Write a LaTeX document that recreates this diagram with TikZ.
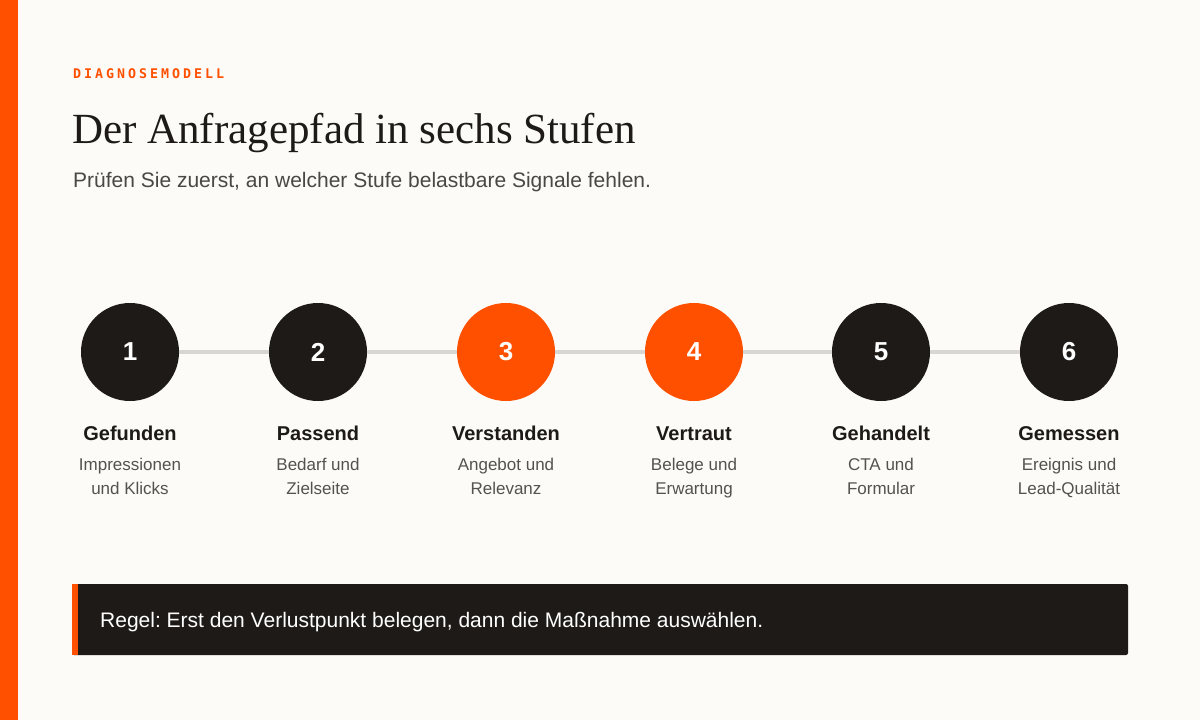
\documentclass[tikz,border=0pt]{standalone}
\usepackage{fontspec}
\setmainfont{Liberation Sans}
\newfontfamily\serifT{Liberation Serif}
\newfontfamily\monoT[LetterSpace=22.5]{DejaVu Sans Mono}
\definecolor{bg}{HTML}{FCFBF8}
\definecolor{accent}{HTML}{FF5000}
\definecolor{ink}{HTML}{1E1A17}
\definecolor{subgray}{HTML}{4A4744}
\definecolor{descgray}{HTML}{55524E}
\definecolor{linegray}{HTML}{D9D6D1}
\tikzset{
  stepcircle/.style={circle, minimum size=98pt, inner sep=0pt, fill=ink, text=white, font=\bfseries\fontsize{26}{26}\selectfont},
  hot/.style={fill=accent},
  conn/.style={draw=linegray, line width=4pt},
  steptitle/.style={anchor=base, inner sep=0pt, text=ink, font=\bfseries\fontsize{20}{20}\selectfont},
  stepdesc/.style={anchor=base, inner sep=0pt, text=descgray, font=\fontsize{17}{17}\selectfont},
}
\frenchspacing
\begin{document}
\frenchspacing
\begin{tikzpicture}[x=1pt,y=-1pt]
\useasboundingbox (0,0) rectangle (1200,720);
\fill[bg] (0,0) rectangle (1200,720);
\fill[accent] (0,0) rectangle (18,720);
\node[anchor=base west, inner sep=0pt, text=accent, font=\monoT\bfseries\fontsize{13.3}{13.3}\selectfont] (kicker) at (73,78) {DIAGNOSEMODELL};
\node[anchor=base west, inner sep=0pt, text=ink, font=\serifT\fontsize{43}{43}\selectfont] (title) at (72,143) {Der Anfragepfad in sechs Stufen};
\node[anchor=base west, inner sep=0pt, text=subgray, font=\fontsize{21}{21}\selectfont] (sub) at (73,187) {Prüfen Sie zuerst, an welcher Stufe belastbare Signale fehlen.};
% circles
\node[stepcircle] (c1) at (130,352) {1};
\node[stepcircle] (c2) at (318,352) {2};
\node[stepcircle,hot] (c3) at (506,352) {3};
\node[stepcircle,hot] (c4) at (694,352) {4};
\node[stepcircle] (c5) at (881,352) {5};
\node[stepcircle] (c6) at (1069,352) {6};
\draw[conn] (c1) -- (c2);
\draw[conn] (c2) -- (c3);
\draw[conn] (c3) -- (c4);
\draw[conn] (c4) -- (c5);
\draw[conn] (c5) -- (c6);
% titles
\node[steptitle] (t1) at (130,440) {Gefunden};
\node[steptitle] (t2) at (318,440) {Passend};
\node[steptitle] (t3) at (506,440) {Verstanden};
\node[steptitle] (t4) at (694,440) {Vertraut};
\node[steptitle] (t5) at (881,440) {Gehandelt};
\node[steptitle] (t6) at (1069,440) {Gemessen};
% descriptions
\node[stepdesc] (d1a) at (130,470) {Impressionen};
\node[stepdesc] (d1b) at (130,494) {und Klicks};
\node[stepdesc] (d2a) at (318,470) {Bedarf und};
\node[stepdesc] (d2b) at (318,494) {Zielseite};
\node[stepdesc] (d3a) at (506,470) {Angebot und};
\node[stepdesc] (d3b) at (506,494) {Relevanz};
\node[stepdesc] (d4a) at (694,470) {Belege und};
\node[stepdesc] (d4b) at (694,494) {Erwartung};
\node[stepdesc] (d5a) at (881,470) {CTA und};
\node[stepdesc] (d5b) at (881,494) {Formular};
\node[stepdesc] (d6a) at (1069,470) {Ereignis und};
\node[stepdesc] (d6b) at (1069,494) {Lead-Qualität};
% rule box
\fill[ink, rounded corners=2pt] (72,584) rectangle (1128,655);
\fill[accent] (72,584) rectangle (78,655);
\node[anchor=base west, inner sep=0pt, text=white, font=\fontsize{21}{21}\selectfont] (rule) at (100,627) {Regel: Erst den Verlustpunkt belegen, dann die Maßnahme auswählen.};
\end{tikzpicture}
\end{document}
